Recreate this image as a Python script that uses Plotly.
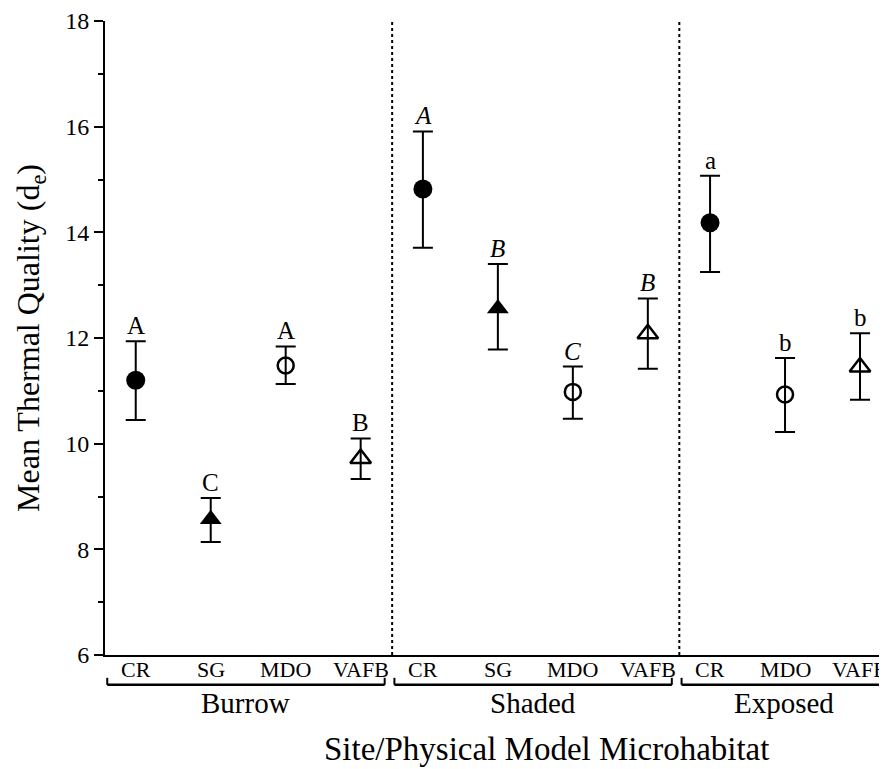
import plotly.graph_objects as go

# ---- data ----
groups = ["Burrow", "Shaded", "Exposed"]
sites_burrow = ["CR", "SG", "MDO", "VAFB"]
sites_shaded = ["CR", "SG", "MDO", "VAFB"]
sites_exposed = ["CR", "MDO", "VAFB"]

mean_burrow = [11.20, 8.57, 11.48, 9.72]
upper_burrow = [11.94, 8.97, 11.84, 10.10]
lower_burrow = [10.45, 8.14, 11.13, 9.33]
letters_burrow = ["A", "C", "A", "B"]

mean_shaded = [14.82, 12.56, 10.98, 12.08]
upper_shaded = [15.91, 13.40, 11.46, 12.75]
lower_shaded = [13.71, 11.78, 10.47, 11.42]
letters_shaded = ["A", "B", "C", "B"]

mean_exposed = [14.18, 10.93, 11.45]
upper_exposed = [15.07, 11.62, 12.09]
lower_exposed = [13.25, 10.22, 10.83]
letters_exposed = ["a", "b", "b"]

y_ticks = [6, 8, 10, 12, 14, 16, 18]

# ---- layout helpers ----
PANEL_W = 3.83
MARGIN = 0.41
XMAX = 10.43
FONT = "Liberation Serif, Times New Roman, serif"

site_style = {
    "CR": dict(symbol="circle", size=19, color="black", line=dict(width=0)),
    "SG": dict(symbol="triangle-up", size=19, color="black", line=dict(width=0)),
    "MDO": dict(symbol="circle-open", size=16, color="black", line=dict(width=2.5)),
    "VAFB": dict(symbol="triangle-up-open", size=18, color="black", line=dict(width=2.5)),
}

panels = [
    (sites_burrow, mean_burrow, upper_burrow, lower_burrow, letters_burrow, False),
    (sites_shaded, mean_shaded, upper_shaded, lower_shaded, letters_shaded, True),
    (sites_exposed, mean_exposed, upper_exposed, lower_exposed, letters_exposed, False),
]

fig = go.Figure()
annotations = []
shapes = []

for g, (sites, means, ups, lows, letters, italic) in enumerate(panels):
    start = g * PANEL_W
    for i, s in enumerate(sites):
        x = start + MARGIN + i
        fig.add_trace(go.Scatter(
            x=[x], y=[means[i]], mode="markers",
            marker=site_style[s],
            error_y=dict(type="data", symmetric=False,
                         array=[ups[i] - means[i]],
                         arrayminus=[means[i] - lows[i]],
                         color="black", thickness=2, width=10),
            showlegend=False, hoverinfo="skip"))
        txt = f"<i>{letters[i]}</i>" if italic else letters[i]
        annotations.append(dict(x=x, y=ups[i], xref="x", yref="y", text=txt,
                                showarrow=False, yanchor="bottom", yshift=0,
                                font=dict(family=FONT, size=25, color="black")))
        # category label under the axis
        annotations.append(dict(x=x, y=-0.023, xref="x", yref="paper", text=s,
                                showarrow=False, yanchor="middle", xanchor="center",
                                font=dict(family=FONT, size=22, color="black")))
    # bracket
    x0 = start + 0.03
    x1 = min(start + PANEL_W - 0.1, XMAX)
    yb = -0.047
    ys = -0.036
    shapes.append(dict(type="line", xref="x", yref="paper", x0=x0, x1=x1, y0=yb, y1=yb,
                       line=dict(color="black", width=2.5)))
    shapes.append(dict(type="line", xref="x", yref="paper", x0=x0, x1=x0, y0=yb, y1=ys,
                       line=dict(color="black", width=2)))
    if x1 < XMAX:
        shapes.append(dict(type="line", xref="x", yref="paper", x0=x1, x1=x1, y0=yb, y1=ys,
                           line=dict(color="black", width=2)))
    annotations.append(dict(x=(x0 + x1) / 2, y=-0.075, xref="x", yref="paper",
                            text=groups[g], showarrow=False, yanchor="middle",
                            font=dict(family=FONT, size=29, color="black")))
    # dotted separator
    if g > 0:
        shapes.append(dict(type="line", xref="x", yref="paper", x0=start, x1=start, y0=0, y1=1,
                           line=dict(color="black", width=2, dash="dot")))

annotations.append(dict(x=0.565, y=-0.149, xref="paper", yref="paper",
                        text="Site/Physical Model Microhabitat", showarrow=False,
                        xanchor="center", yanchor="middle",
                        font=dict(family=FONT, size=33, color="black")))
annotations.append(dict(x=-0.096, y=0.5, xref="paper", yref="paper",
                        text="Mean Thermal Quality (d<sub>e</sub>)", showarrow=False,
                        textangle=-90, xanchor="center", yanchor="middle",
                        font=dict(family=FONT, size=32, color="black")))

fig.update_layout(
    width=879, height=761,
    margin=dict(l=97, r=0, t=9, b=114),
    paper_bgcolor="white", plot_bgcolor="white",
    annotations=annotations, shapes=shapes,
    xaxis=dict(range=[0, XMAX], showticklabels=False,
               showgrid=False, zeroline=False, showline=True, linecolor="black",
               linewidth=2, ticks=""),
    yaxis=dict(range=[6, 18], tickvals=y_ticks, showgrid=False, zeroline=False,
               showline=True, linecolor="black", linewidth=2, ticks="outside",
               ticklen=9, tickwidth=2, tickcolor="black", ticklabeloverflow="allow",
               tickfont=dict(family=FONT, size=24, color="black"),
               minor=dict(dtick=1, ticks="outside", ticklen=5, tickwidth=1.5, tickcolor="black",
                          showgrid=False)),
)

fig.write_html("out.html")
